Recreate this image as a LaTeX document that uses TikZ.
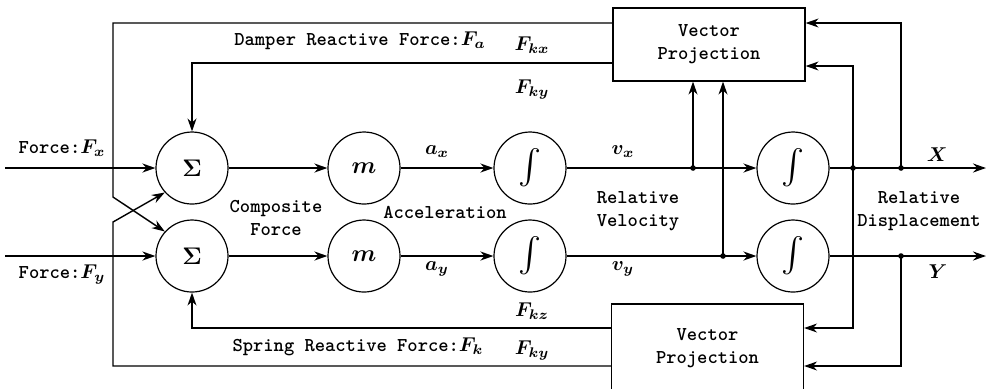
\documentclass[tikz,border=0pt]{standalone}
\usepackage{amsmath}
\usetikzlibrary{arrows.meta}
\newcommand{\lbl}{\fontsize{9.8}{11.5}\selectfont\ttfamily\bfseries\boldmath}
\tikzset{
  blk/.style={draw,circle,minimum size=36pt,inner sep=0pt,line width=0.6pt,font=\large\boldmath},
  intblk/.style={blk,font=\LARGE\boldmath},
  proj/.style={draw,rectangle,minimum width=96pt,align=center,line width=0.6pt,font=\lbl},
  lab/.style={inner sep=0pt,align=center,font=\lbl},
  flow/.style={line width=1pt},
  sig/.style={line width=0.7pt},
  >={Stealth[length=6.5pt,width=4.5pt]},
}
\begin{document}
\begin{tikzpicture}[x=0.5pt,y=-0.5pt]
\useasboundingbox (0,0) rectangle (989,388);
\clip (0,0) rectangle (989,388);
% blocks
\node[blk] (sumx) at (192,168) {$\Sigma$};
\node[blk] (sumy) at (192,256) {$\Sigma$};
\node[blk] (mx) at (364,168) {$m$};
\node[blk] (my) at (364,256) {$m$};
\node[intblk] (intx) at (530,168) {$\int$};
\node[intblk] (inty) at (530,256) {$\int$};
\node[intblk] (dispx) at (793,168) {$\int$};
\node[intblk] (dispy) at (793,256) {$\int$};
\node[proj,minimum height=36.5pt] (pa) at (709,44.5) {Vector\\Projection};
\node[proj,minimum height=44pt] (pb) at (707.5,348) {Vector\\Projection};
% end points and branch points
\coordinate (inx) at (5,168);
\coordinate (iny) at (5,256);
\coordinate (outx) at (986,168);
\coordinate (outy) at (986,256);
\coordinate (vx) at (693,168);
\coordinate (vy) at (723,256);
\coordinate (dxa) at (853,168);
\coordinate (dxb) at (901,168);
\coordinate (dyb) at (901,256);
% forward path
\draw[flow,->] (inx) -- (sumx);
\draw[flow,->] (sumx) -- (mx);
\draw[flow,->] (mx) -- (intx);
\draw[flow,->] (intx) -- (dispx);
\draw[flow,->] (dispx) -- (outx);
\draw[flow,->] (iny) -- (sumy);
\draw[flow,->] (sumy) -- (my);
\draw[flow,->] (my) -- (inty);
\draw[flow,->] (inty) -- (dispy);
\draw[flow,->] (dispy) -- (outy);
% feedback to projections
\draw[sig,->] (vx) -- (vx|-pa.south);
\draw[sig,->] (vy) -- (vy|-pa.south);
\draw[sig,->] (dxb) |- (pa.east |- 0,23);
\draw[sig,->] (dxa) |- (pa.east |- 0,66);
\draw[sig,->] (dxa) |- (pb.east |- 0,328);
\draw[sig,->] (dyb) |- (pb.east |- 0,366);
% reactive forces
\draw[sig,->] (pa.west |- 0,23) -- (113,23) -- (113,197) -- (sumy.138);
\draw[sig,->] (pa.west |- 0,63) -| (sumx);
\draw[sig,->] (pb.west |- 0,366) -- (113,366) -- (113,222) -- (sumx.222);
\draw[sig,->] (pb.west |- 0,328) -| (sumy);
\foreach \p in {vx,vy,dxa,dxb,dyb} \fill (\p) circle (1.4pt);
% labels
\node[lab] (fx) at (62,148) {Force:$F_x$};
\node[lab] (fy) at (62,274) {Force:$F_y$};
\node[lab] (ax) at (437,152) {$a_x$};
\node[lab] (ay) at (437,269) {$a_y$};
\node[lab] (velx) at (623,152) {$v_x$};
\node[lab] (vely) at (623,269) {$v_y$};
\node[lab] (xo) at (937,155) {$X$};
\node[lab] (yo) at (938,272) {$Y$};
\node[lab] (comp) at (276,218) {Composite\\Force};
\node[lab] (acc) at (445,212) {Acceleration};
\node[lab] (relv) at (638,211) {Relative\\Velocity};
\node[lab] (reld) at (919,211) {Relative\\Displacement};
\node[lab] (damp) at (360,41) {Damper Reactive Force:$F_a$};
\node[lab] (spr) at (358,347) {Spring Reactive Force:$F_k$};
\node[lab] (fkxa) at (532,45) {$F_{kx}$};
\node[lab] (fkya) at (532,89) {$F_{ky}$};
\node[lab] (fkxb) at (532,311) {$F_{kz}$};
\node[lab] (fkyb) at (532,350) {$F_{ky}$};
\end{tikzpicture}
\end{document}
